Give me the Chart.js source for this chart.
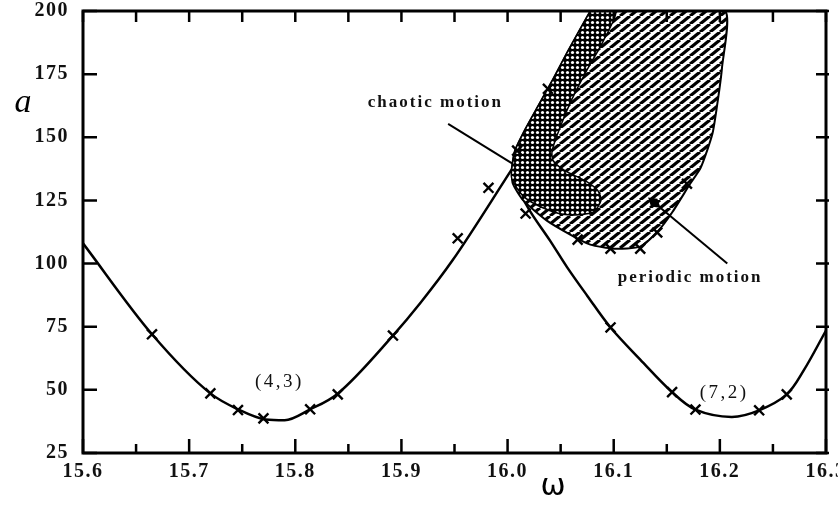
<!DOCTYPE html>
<html>
<head>
<meta charset="utf-8">
<script src="https://cdn.jsdelivr.net/npm/chart.js@4.4.0/dist/chart.umd.min.js"></script>
<style>
  html, body { margin: 0; padding: 0; background: #fff; }
</style>
</head>
<body>
<canvas id="chart" width="838" height="509"></canvas>
<script>
'use strict';

// (4,3) resonance curve
const leftW = [15.600, 15.665, 15.720, 15.746, 15.772, 15.790, 15.814, 15.839, 15.892, 15.918, 15.948, 16.005];
const leftA = [108, 72, 48.6, 42.3, 38.3, 38, 42.3, 48.2, 71.5, 84.5, 101.2, 138];

// (7,2) resonance curve
const rightW = [16.005, 16.021, 16.040, 16.056, 16.075, 16.097, 16.125, 16.155, 16.177, 16.211, 16.237, 16.263, 16.279, 16.300];
const rightA = [133, 120.9, 109.1, 98.6, 87.3, 74.7, 62, 49.1, 42.2, 39.3, 41.9, 48.2, 57.7, 73.5];

// measured points (x marks)
const markW = [15.665, 15.720, 15.746, 15.770, 15.814, 15.840, 15.892, 15.953, 15.982, 16.009, 16.038,
               16.017, 16.097, 16.155, 16.177, 16.237, 16.263,
               16.066, 16.097, 16.125, 16.141, 16.169];
const markA = [72, 48.6, 42, 38.7, 42.3, 48.2, 71.5, 110, 130, 144.7, 169.2,
               119.8, 74.7, 49.1, 42.2, 41.9, 48.2,
               109.5, 105.9, 105.9, 112.3, 131.6];

// periodic motion region outline
const periodicW = [16.078, 16.140, 16.205, 16.202, 16.198, 16.193, 16.182, 16.172, 16.155, 16.142, 16.125, 16.100, 16.078,
                   16.059, 16.037, 16.015, 16.005, 16.004, 16.007, 16.017, 16.029, 16.042, 16.057, 16.078];
const periodicA = [200, 200, 200, 177.5, 164.4, 151.4, 138, 131.6, 120.2, 113, 106.7, 105.9, 107.5,
                   111.5, 117, 124.9, 131.6, 137.5, 144.7, 153.4, 162.5, 172.3, 184.2, 200];

// chaotic motion region outline
const chaoticW = [16.078, 16.102, 16.090, 16.074, 16.060, 16.050, 16.042, 16.043, 16.054, 16.073, 16.085, 16.088,
                  16.080, 16.054, 16.031, 16.014, 16.004, 16.004, 16.007, 16.017, 16.029, 16.042, 16.057, 16.078];
const chaoticA = [200, 200, 188, 176, 164.5, 154.5, 144.7, 140.7, 136.8, 132.8, 128.9, 124.9,
                  120.2, 119.4, 122.5, 127, 133.6, 137.5, 144.7, 153.4, 162.5, 172.3, 184.2, 200];

const xTicksMin = 15.6, xTicksMax = 16.3;
const yTicksMin = 25, yTicksMax = 200;

const SERIF = '"Liberation Serif", "Times New Roman", serif';

function pts(ws, as) {
  return ws.map((w, i) => ({ x: w, y: as[i] }));
}

function hatchPattern() {
  const c = document.createElement('canvas');
  c.width = 10; c.height = 8;
  const g = c.getContext('2d');
  g.fillStyle = '#fff';
  g.fillRect(0, 0, 10, 8);
  g.strokeStyle = '#000';
  g.lineWidth = 3.2;
  for (const dx of [-10, 0, 10]) {
    g.beginPath();
    g.moveTo(dx, 8);
    g.lineTo(dx + 10, 0);
    g.stroke();
  }
  return g.createPattern(c, 'repeat');
}

function dotPattern() {
  const c = document.createElement('canvas');
  c.width = 5; c.height = 5;
  const g = c.getContext('2d');
  g.fillStyle = '#000';
  g.fillRect(0, 0, 5, 5);
  g.fillStyle = '#fff';
  g.beginPath();
  g.arc(2.5, 2.5, 1.6, 0, Math.PI * 2);
  g.fill();
  return g.createPattern(c, 'repeat');
}

function text(ctx, s, x, y, font, spacing, align) {
  ctx.font = font;
  ctx.letterSpacing = spacing + 'px';
  ctx.textAlign = align || 'center';
  ctx.textBaseline = 'middle';
  ctx.fillText(s, x, y);
}

const decor = {
  id: 'decor',
  beforeDraw(chart) {
    chart.ctx.letterSpacing = '1.5px';
  },
  afterDatasetsDraw(chart) {
    const { ctx, scales: { x, y } } = chart;
    const px = v => x.getPixelForValue(v);
    const py = v => y.getPixelForValue(v);
    ctx.save();
    ctx.strokeStyle = '#000';
    ctx.fillStyle = '#111';
    ctx.lineWidth = 2;

    // leader for chaotic motion
    ctx.beginPath();
    ctx.moveTo(px(15.944), py(155.3));
    ctx.lineTo(px(16.005), py(139.5));
    ctx.stroke();

    // leader for periodic motion with small arrow head
    const x0 = px(16.136), y0 = py(124.9), x1 = px(16.207), y1 = py(100);
    ctx.beginPath();
    ctx.moveTo(x0, y0);
    ctx.lineTo(x1, y1);
    ctx.stroke();
    const ang = Math.atan2(y1 - y0, x1 - x0);
    ctx.save();
    ctx.translate(x0, y0);
    ctx.rotate(ang);
    ctx.fillStyle = '#000';
    ctx.beginPath();
    ctx.moveTo(-5, 0);
    ctx.lineTo(3, -5);
    ctx.lineTo(11, 0);
    ctx.lineTo(3, 5);
    ctx.closePath();
    ctx.fill();
    ctx.restore();

    text(ctx, 'chaotic motion', px(15.932), py(163.6), 'bold 17px ' + SERIF, 2);
    text(ctx, 'periodic motion', px(16.172), py(94.5), 'bold 17px ' + SERIF, 2);
    text(ctx, '(4,3)', px(15.785), py(53), '19px ' + SERIF, 2.5);
    text(ctx, '(7,2)', px(16.204), py(48.6), '19px ' + SERIF, 2.5);
    ctx.restore();
  },
  afterDraw(chart) {
    const { ctx, chartArea: a, scales: { x, y } } = chart;
    ctx.save();
    ctx.letterSpacing = '0px';
    ctx.strokeStyle = '#000';
    ctx.lineWidth = 3;
    ctx.strokeRect(a.left, a.top, a.right - a.left, a.bottom - a.top);

    // inward ticks
    ctx.lineWidth = 2.5;
    ctx.beginPath();
    for (let i = 0; i <= 14; i++) {
      const v = xTicksMin + i * 0.05;
      const p = x.getPixelForValue(v);
      const len = i % 2 === 0 ? 14 : 9;
      ctx.moveTo(p, a.bottom);
      ctx.lineTo(p, a.bottom - len);
      ctx.moveTo(p, a.top);
      ctx.lineTo(p, a.top + 11);
    }
    for (let v = yTicksMin; v <= yTicksMax; v += 25) {
      const p = y.getPixelForValue(v);
      ctx.moveTo(a.left, p);
      ctx.lineTo(a.left + 14, p);
      ctx.moveTo(a.right + 3, p);
      ctx.lineTo(a.right - 10, p);
    }
    ctx.stroke();

    // axis symbols
    ctx.fillStyle = '#000';
    text(ctx, 'a', 23, 103, 'italic 34px ' + SERIF, 0);
    text(ctx, 'ω', 553, 487, '30px "DejaVu Sans", sans-serif', 0);
    ctx.restore();
  }
};

const lineStyle = {
  type: 'line',
  borderColor: '#000',
  borderWidth: 2.5,
  pointRadius: 0,
  fill: false,
  cubicInterpolationMode: 'monotone',
};

new Chart(document.getElementById('chart'), {
  type: 'line',
  data: {
    datasets: [
      { ...lineStyle, data: pts(leftW, leftA), order: 6 },
      { ...lineStyle, data: pts(rightW, rightA), order: 6, cubicInterpolationMode: 'default', tension: 0.35 },
      {
        ...lineStyle, data: pts(periodicW, periodicA), order: 5, cubicInterpolationMode: 'default',
        borderWidth: 2, tension: 0.2, capBezierPoints: false, fill: 'shape', backgroundColor: hatchPattern(),
      },
      {
        ...lineStyle, data: pts(chaoticW, chaoticA), order: 4, cubicInterpolationMode: 'default',
        borderWidth: 1.5, tension: 0.25, capBezierPoints: false, fill: 'shape', backgroundColor: dotPattern(),
      },
      {
        type: 'line', data: pts(markW, markA), order: 1,
        showLine: false, pointStyle: 'crossRot', pointRadius: 7,
        pointBorderWidth: 2.4, pointBorderColor: '#000', borderColor: '#000',
      },
    ],
  },
  options: {
    responsive: false,
    animation: false,
    events: [],
    layout: { padding: { top: 11, right: 12, left: 0, bottom: 0 } },
    plugins: { legend: { display: false }, tooltip: { enabled: false } },
    scales: {
      x: {
        type: 'linear',
        min: xTicksMin,
        max: xTicksMax,
        grid: { display: false, drawTicks: false },
        border: { display: false },
        ticks: {
          stepSize: 0.1,
          autoSkip: false,
          maxRotation: 0,
          padding: 7,
          color: '#111',
          font: { family: SERIF, size: 20, weight: 'bold' },
          callback: v => v.toFixed(1),
        },
        afterFit(s) { s.height = 56; s.paddingLeft = 0; s.paddingRight = 0; },
      },
      y: {
        min: yTicksMin,
        max: yTicksMax,
        grid: { display: false, drawTicks: false },
        border: { display: false },
        ticks: {
          stepSize: 25,
          padding: 14,
          color: '#111',
          font: { family: SERIF, size: 20, weight: 'bold' },
        },
        afterFit(s) { s.width = 83; s.paddingTop = 0; s.paddingBottom = 0; },
      },
    },
  },
  plugins: [decor],
});
</script>
</body>
</html>
